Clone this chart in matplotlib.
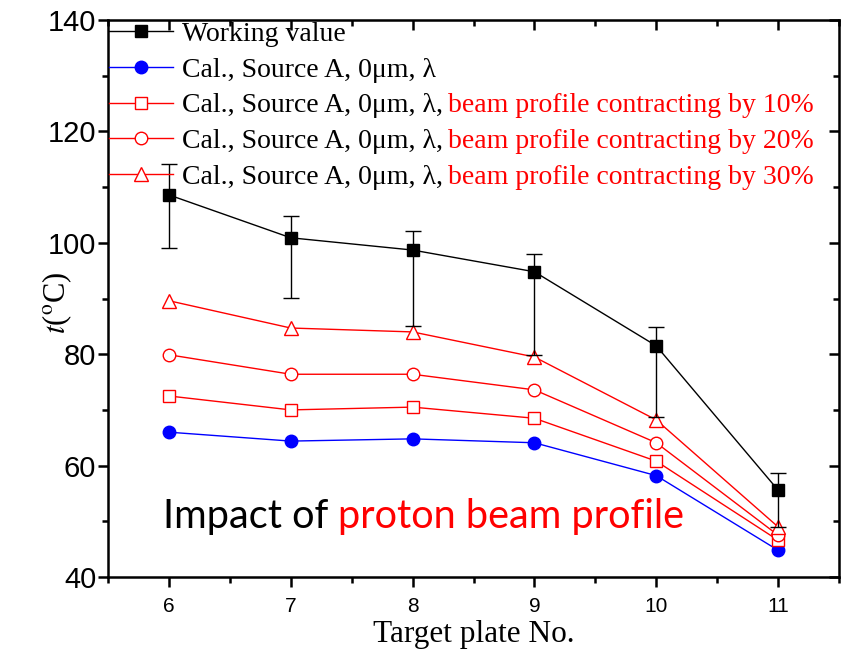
import matplotlib.pyplot as plt
from matplotlib.ticker import MultipleLocator

# data
plates = [6, 7, 8, 9, 10, 11]
working = [108.6, 100.9, 98.7, 94.8, 81.5, 55.6]
work_err_lo = [9.5, 10.8, 13.6, 15.0, 12.8, 6.6]
work_err_hi = [5.5, 3.9, 3.4, 3.2, 3.4, 3.1]
cal_base = [66.0, 64.4, 64.8, 64.1, 58.2, 44.8]
cal_10 = [72.5, 70.0, 70.5, 68.5, 60.8, 46.6]
cal_20 = [79.9, 76.4, 76.4, 73.6, 64.1, 47.5]
cal_30 = [89.6, 84.7, 84.0, 79.5, 68.2, 49.0]

lab_base = "Cal., Source A, 0\u03bcm, \u03bb"
lab_red = ["beam profile contracting by 10%",
           "beam profile contracting by 20%",
           "beam profile contracting by 30%"]

plt.rcParams['mathtext.fontset'] = 'stix'
serif = ['Liberation Serif', 'DejaVu Serif']

fig = plt.figure(figsize=(8.54, 6.55), dpi=100)
ax = fig.add_axes([108/854, 1 - 577/655, 731/854, 557/655])

mk = 9
ax.errorbar(plates, working, yerr=[work_err_lo, work_err_hi], color='black', lw=1,
            elinewidth=1, capsize=6, marker='s', ms=mk, label='Working value', zorder=3)
ax.plot(plates, cal_base, color='blue', lw=1, marker='o', ms=mk, label=lab_base)
ax.plot(plates, cal_10, color='red', lw=1, marker='s', ms=mk, mfc='white', mew=1, label=lab_base + ",")
ax.plot(plates, cal_20, color='red', lw=1, marker='o', ms=mk, mfc='white', mew=1, label=lab_base + ",")
ax.plot(plates, cal_30, color='red', lw=1, marker='^', ms=mk + 1, mfc='white', mew=1, label=lab_base + ",")

ax.set_xlim(5.5, 11.5)
ax.set_ylim(40, 140)
ax.xaxis.set_major_locator(MultipleLocator(1))
ax.xaxis.set_minor_locator(MultipleLocator(0.5))
ax.yaxis.set_major_locator(MultipleLocator(20))
ax.yaxis.set_minor_locator(MultipleLocator(10))

for s in ax.spines.values():
    s.set_linewidth(1.8)
ax.tick_params(which='both', direction='out', width=1.8, top=False, right=False)
ax.tick_params(which='major', length=7.5)
ax.tick_params(which='minor', length=4)
ax.tick_params(axis='y', labelsize=21, pad=1)
ax.tick_params(axis='x', labelsize=15, pad=7)
for lbl in ax.get_xticklabels() + ax.get_yticklabels():
    lbl.set_family(['Liberation Sans', 'DejaVu Sans'])
# inward ticks on top and right
ax2 = ax.secondary_xaxis('top')
ax2.xaxis.set_major_locator(MultipleLocator(1))
ax2.xaxis.set_minor_locator(MultipleLocator(0.5))
ax2.tick_params(which='both', direction='in', width=1.8, labeltop=False)
ax2.tick_params(which='major', length=7.5)
ax2.tick_params(which='minor', length=4)
ax3 = ax.secondary_yaxis('right')
ax3.yaxis.set_major_locator(MultipleLocator(20))
ax3.yaxis.set_minor_locator(MultipleLocator(10))
ax3.tick_params(which='both', direction='in', width=1.8, labelright=False)
ax3.tick_params(which='major', length=7.5)
ax3.tick_params(which='minor', length=4)

ax.set_xlabel('Target plate No.', fontsize=22.5, family=serif, labelpad=3)
fig.text(57/854, 1 - 303/655, r'$\mathit{t}$($^{\rm o}$C)', fontsize=22, family=serif,
         rotation=90, ha='center', va='center')

handles, labels = ax.get_legend_handles_labels()
order = [4, 0, 1, 2, 3]
handles = [handles[i] for i in order]
handles[0] = handles[0][0]  # data line only, no error bar in the key
labels = [labels[i] for i in order]
leg = ax.legend(handles, labels, loc='upper left', frameon=False,
                prop={'family': serif, 'size': 20},
                handlelength=2.3, handletextpad=0.3, labelspacing=0.37,
                borderaxespad=0.0, borderpad=0.05)

fig.canvas.draw()
r = fig.canvas.get_renderer()
inv = fig.transFigure.inverted()
for t, red in zip(leg.get_texts()[2:], lab_red):
    bb = t.get_window_extent(r)
    x0, y0 = inv.transform((bb.x1 + 5, bb.y0))
    fig.text(x0, y0, red, color='red', fontsize=20, family=serif, va='bottom')

sans = ['Lato', 'DejaVu Sans']
t1 = fig.text(163/854, 1 - 528/655, 'Impact of ', fontsize=28.6, family=sans)
fig.canvas.draw()
bb = t1.get_window_extent(r)
fig.text(inv.transform((bb.x1, 0))[0], 1 - 528/655, 'proton beam profile', color='red',
         fontsize=28.6, family=sans)

fig.savefig('out.png', dpi=100)
